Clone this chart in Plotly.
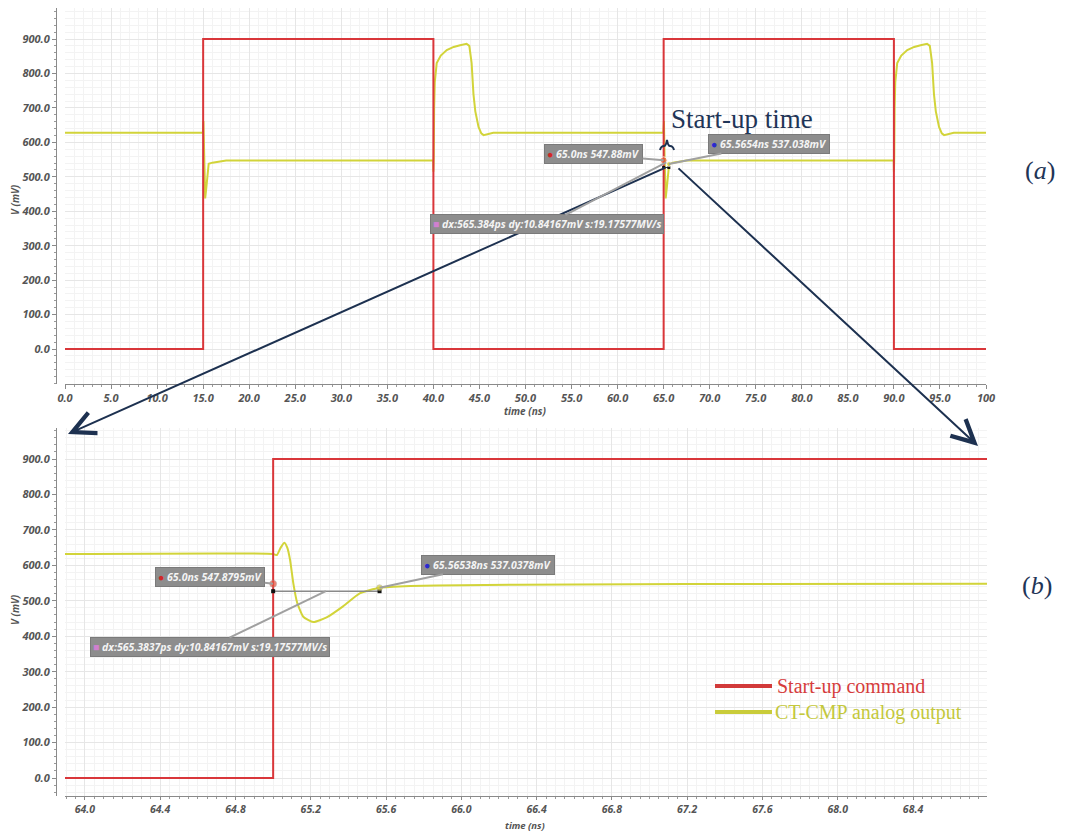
import plotly.graph_objects as go

# page body keeps its default 8px margin, so the figure is drawn 8px in from the window edge
OX, OY = 8, 8
W, H = 1050, 824

# ---------------- data: panel (a) ----------------
a_red_t = [0, 15, 15, 40, 40, 65, 65, 90, 90, 100]
a_red_v = [0, 0, 900, 900, 0, 0, 900, 900, 0, 0]

a_yel_t = [0, 14.97, 15.03, 15.1, 15.15, 15.22, 15.35, 15.5, 15.6, 16.0, 17.5,
           39.98, 40.0, 40.04, 40.08, 40.15, 40.36, 40.8, 41.45, 42.2, 42.9, 43.6, 43.9,
           44.15, 44.35, 44.55, 44.9, 45.2, 45.45, 46.0, 46.5,
           64.97, 65.03, 65.1, 65.15, 65.22, 65.35, 65.5, 65.6, 66.0, 67.5,
           89.98, 90.0, 90.04, 90.08, 90.15, 90.36, 90.8, 91.45, 92.2, 92.9, 93.6, 93.9,
           94.15, 94.35, 94.55, 94.9, 95.2, 95.45, 96.0, 96.5, 100]
a_yel_v = [628, 628, 662, 560, 460, 437, 470, 525, 538, 541, 547,
           547, 515, 560, 700, 775, 830, 852, 868, 877, 882, 886, 880,
           830, 740, 690, 645, 626, 621, 625, 628,
           628, 662, 560, 460, 437, 470, 525, 538, 541, 547,
           547, 515, 560, 700, 775, 830, 852, 868, 877, 882, 886, 880,
           830, 740, 690, 645, 626, 621, 625, 628, 628]

a_x_ticks = [0, 5, 10, 15, 20, 25, 30, 35, 40, 45, 50, 55, 60, 65, 70, 75, 80, 85, 90, 95, 100]
a_x_text = ["0.0", "5.0", "10.0", "15.0", "20.0", "25.0", "30.0", "35.0", "40.0", "45.0",
            "50.0", "55.0", "60.0", "65.0", "70.0", "75.0", "80.0", "85.0", "90.0", "95.0", "100"]

# ---------------- data: panel (b) ----------------
b_red_t = [63.894, 65.0, 65.0, 68.793]
b_red_v = [0, 0, 900, 900]

b_yel_t = [63.894, 65.0, 65.02, 65.04, 65.06, 65.075, 65.09, 65.107, 65.128, 65.16,
           65.213, 65.284, 65.373, 65.46, 65.565, 65.73, 66.0, 66.6, 67.2, 68.793]
b_yel_v = [632, 632, 629, 650, 664, 650, 615, 550, 494, 455,
           440, 453, 485, 521, 537, 542, 544, 546, 547.5, 548]

b_x_ticks = [64.0, 64.4, 64.8, 65.2, 65.6, 66.0, 66.4, 66.8, 67.2, 67.6, 68.0, 68.4]
b_x_text = ["64.0", "64.4", "64.8", "65.2", "65.6", "66.0", "66.4", "66.8", "67.2", "67.6", "68.0", "68.4"]

y_ticks = [0, 100, 200, 300, 400, 500, 600, 700, 800, 900]
y_text = ["0.0", "100.0", "200.0", "300.0", "400.0", "500.0", "600.0", "700.0", "800.0", "900.0"]

# cursors
a_cur_t = [65.0, 65.5654]
a_cur_v = [547.88, 537.038]
b_cur_t = [65.0, 65.56538]
b_cur_v = [547.8795, 537.0378]
meas_level = 527
mid_t = 65.28

RED = "#d9363a"
YEL = "#d2d43a"
NAVY = "#1d3150"

def px(x):
    return (x - OX) / W

def py(y):
    return 1 - (y - OY) / H

fig = go.Figure()

# panel (a) traces
fig.add_trace(go.Scatter(x=a_yel_t, y=a_yel_v, mode="lines", line=dict(color=YEL, width=2),
                         xaxis="x", yaxis="y", showlegend=False, name="CT-CMP analog output"))
fig.add_trace(go.Scatter(x=a_red_t, y=a_red_v, mode="lines", line=dict(color=RED, width=2),
                         xaxis="x", yaxis="y", showlegend=False, name="Start-up command"))
fig.add_trace(go.Scatter(x=[a_cur_t[0], a_cur_t[1]], y=[meas_level, meas_level], mode="lines+markers",
                         line=dict(color="#333", width=1), marker=dict(color="#111", size=3, symbol="square"),
                         xaxis="x", yaxis="y", showlegend=False))
fig.add_trace(go.Scatter(x=a_cur_t, y=a_cur_v, mode="markers",
                         marker=dict(color=["#e8603a", "#d8d040"], size=[7, 5]),
                         xaxis="x", yaxis="y", showlegend=False))

# panel (b) traces
fig.add_trace(go.Scatter(x=b_yel_t, y=b_yel_v, mode="lines", line=dict(color=YEL, width=2, shape="spline", smoothing=0.5),
                         xaxis="x2", yaxis="y2", showlegend=False, name="CT-CMP analog output"))
fig.add_trace(go.Scatter(x=b_red_t, y=b_red_v, mode="lines", line=dict(color=RED, width=2),
                         xaxis="x2", yaxis="y2", showlegend=False, name="Start-up command"))
fig.add_trace(go.Scatter(x=[b_cur_t[0], b_cur_t[1]], y=[meas_level, meas_level], mode="lines+markers",
                         line=dict(color="#8a8a8a", width=1.5), marker=dict(color="#111", size=4, symbol="square"),
                         xaxis="x2", yaxis="y2", showlegend=False))
fig.add_trace(go.Scatter(x=b_cur_t, y=b_cur_v, mode="markers",
                         marker=dict(color=["#e8503a", "#d8d040"], size=[7, 6], line=dict(color="#999", width=0.5)),
                         xaxis="x2", yaxis="y2", showlegend=False))

tickfont = dict(family="Open Sans", size=11, color="#555", weight="bold", style="italic")

def xaxis_cfg(domain, rng, ticks, text, anchor, minor_dtick, ticklen=4, size=11):
    return dict(domain=domain, range=rng, tickvals=ticks, ticktext=text, anchor=anchor,
                showline=True, linecolor="#8a8a8a", linewidth=1, ticks="outside", ticklen=ticklen,
                tickcolor="#8a8a8a", tickfont=dict(tickfont, size=size), showgrid=True, gridcolor="#e6e6e6",
                gridwidth=1, zeroline=False, fixedrange=True, automargin=False,
                minor=dict(dtick=minor_dtick, ticks="outside", ticklen=2, tickcolor="#9a9a9a",
                           showgrid=True, gridcolor="#f3f3f3"))

def yaxis_cfg(domain, rng):
    return dict(domain=domain, range=rng, tickvals=y_ticks, ticktext=y_text, anchor="free",
                position=px(56), showline=True, linecolor="#8a8a8a", linewidth=1, ticks="outside",
                ticklen=4, tickcolor="#8a8a8a", tickfont=tickfont, showgrid=True,
                gridcolor="#e6e6e6", zeroline=False, fixedrange=True, automargin=False,
                minor=dict(dtick=20, ticks="outside", ticklen=2, tickcolor="#9a9a9a",
                           showgrid=True, gridcolor="#f3f3f3"))

fig.update_layout(
    width=W, height=H, autosize=False, margin=dict(l=0, r=0, t=0, b=0, pad=0),
    paper_bgcolor="white", plot_bgcolor="white",
    xaxis=xaxis_cfg([px(65), px(986)], [0, 100], a_x_ticks, a_x_text, "y", 1),
    yaxis=yaxis_cfg([py(384), 1.0], [-101.6, 990.0]),
    xaxis2=xaxis_cfg([px(65), px(987)], [63.894, 68.793], b_x_ticks, b_x_text, "y2", 0.05,
                     ticklen=3, size=10.5),
    yaxis2=yaxis_cfg([py(796), py(428)], [-50.8, 987.5]),
)

ann = []
# navy zoom arrows (drawn first so the cursor boxes sit above them)
ann.append(dict(xref="paper", yref="paper", x=px(68), y=py(434), ax=599, ay=-267, text=" ",
                font=dict(size=1), showarrow=True, arrowhead=5, arrowsize=2.2, arrowwidth=2,
                arrowcolor=NAVY, standoff=0))
ann.append(dict(xref="paper", yref="paper", x=px(978), y=py(446), ax=-301, ay=-279, text=" ",
                font=dict(size=1), showarrow=True, arrowhead=5, arrowsize=2.2, arrowwidth=2,
                arrowcolor=NAVY, standoff=0))

boxfont = dict(family="Open Sans", size=10.5, color="#f4f4f4", weight="bold", style="italic")

def cursor_box(xr, yr, x, y, txt, ax, ay):
    return dict(xref=xr, yref=yr, x=x, y=y, ax=ax, ay=ay, text=txt, font=boxfont,
                xanchor="center", yanchor="middle",
                bgcolor="#8d8d8d", bordercolor="#7a7a7a", borderwidth=1, borderpad=2,
                showarrow=True, arrowhead=0, arrowwidth=2, arrowcolor="#a0a0a0", standoff=0)

RDOT = "<span style='color:#d02828'>●</span>"
BDOT = "<span style='color:#2a2ad0'>●</span>"
PSQ = "<span style='color:#d080d0'>■</span>"

ann.append(cursor_box("x", "y", a_cur_t[0], a_cur_v[0], RDOT + " 65.0ns 547.88mV", -70, -6))
ann.append(cursor_box("x", "y", a_cur_t[1], a_cur_v[1], BDOT + " 65.5654ns 537.038mV", 100, -20))
ann.append(cursor_box("x", "y", mid_t, 542, PSQ + " dx:565.384ps dy:10.84167mV s:19.17577MV/s", -119, 62))
ann.append(cursor_box("x2", "y2", b_cur_t[0], b_cur_v[0], RDOT + " 65.0ns 547.8795mV", -63, -7))
ann.append(cursor_box("x2", "y2", b_cur_t[1], b_cur_v[1], BDOT + " 65.56538ns 537.0378mV", 108, -23))
ann.append(cursor_box("x2", "y2", mid_t, meas_level, PSQ + " dx:565.3837ps dy:10.84167mV s:19.17577MV/s", -116, 56))

def label(x, y, text, font, angle=0, xanchor="center"):
    return dict(xref="paper", yref="paper", x=px(x), y=py(y), text=text, textangle=angle,
                xanchor=xanchor, yanchor="middle", showarrow=False, font=font)

labfont = dict(family="Open Sans", size=10, color="#555", weight="bold", style="italic")
ann.append(label(15, 200, "V (mV)", labfont, -90))
ann.append(label(15, 610, "V (mV)", labfont, -90))
ann.append(label(525, 411, "time (ns)", labfont))
ann.append(label(525, 825, "time (ns)", dict(labfont, size=9.5)))

serif = "Liberation Serif"
ann.append(label(669, 119, "Start-up time", dict(family=serif, size=27, color="#1f3557"), xanchor="left"))
ann.append(label(1040, 171, "(<i>a</i>)", dict(family=serif, size=26, color="#1f3557")))
ann.append(label(1037, 585, "(<i>b</i>)", dict(family=serif, size=26, color="#1f3557")))

# manual legend
ann.append(label(775, 686, "Start-up command", dict(family=serif, size=20, color="#d63c3c"), xanchor="left"))
ann.append(label(773, 712, "CT-CMP analog output", dict(family=serif, size=20, color="#c4c83c"), xanchor="left"))

fig.update_layout(annotations=ann)

shapes = [
    dict(type="line", xref="paper", yref="paper", x0=px(715), x1=px(772), y0=py(686), y1=py(686),
         line=dict(color="#d23a3a", width=4)),
    dict(type="line", xref="paper", yref="paper", x0=px(715), x1=px(772), y0=py(712), y1=py(712),
         line=dict(color="#c9cc3a", width=4)),
    # small brace marking the start-up interval
    dict(type="path", xref="paper", yref="paper",
         path=(f"M {px(660)},{py(150)} Q {px(661)},{py(146)} {px(664)},{py(146)} "
               f"Q {px(666)},{py(146)} {px(667)},{py(140)} Q {px(668)},{py(146)} {px(670)},{py(146)} "
               f"Q {px(673)},{py(146)} {px(674)},{py(150)}"),
         line=dict(color=NAVY, width=2)),
]
fig.update_layout(shapes=shapes)

fig.write_html("out.html", config={"displayModeBar": False})
